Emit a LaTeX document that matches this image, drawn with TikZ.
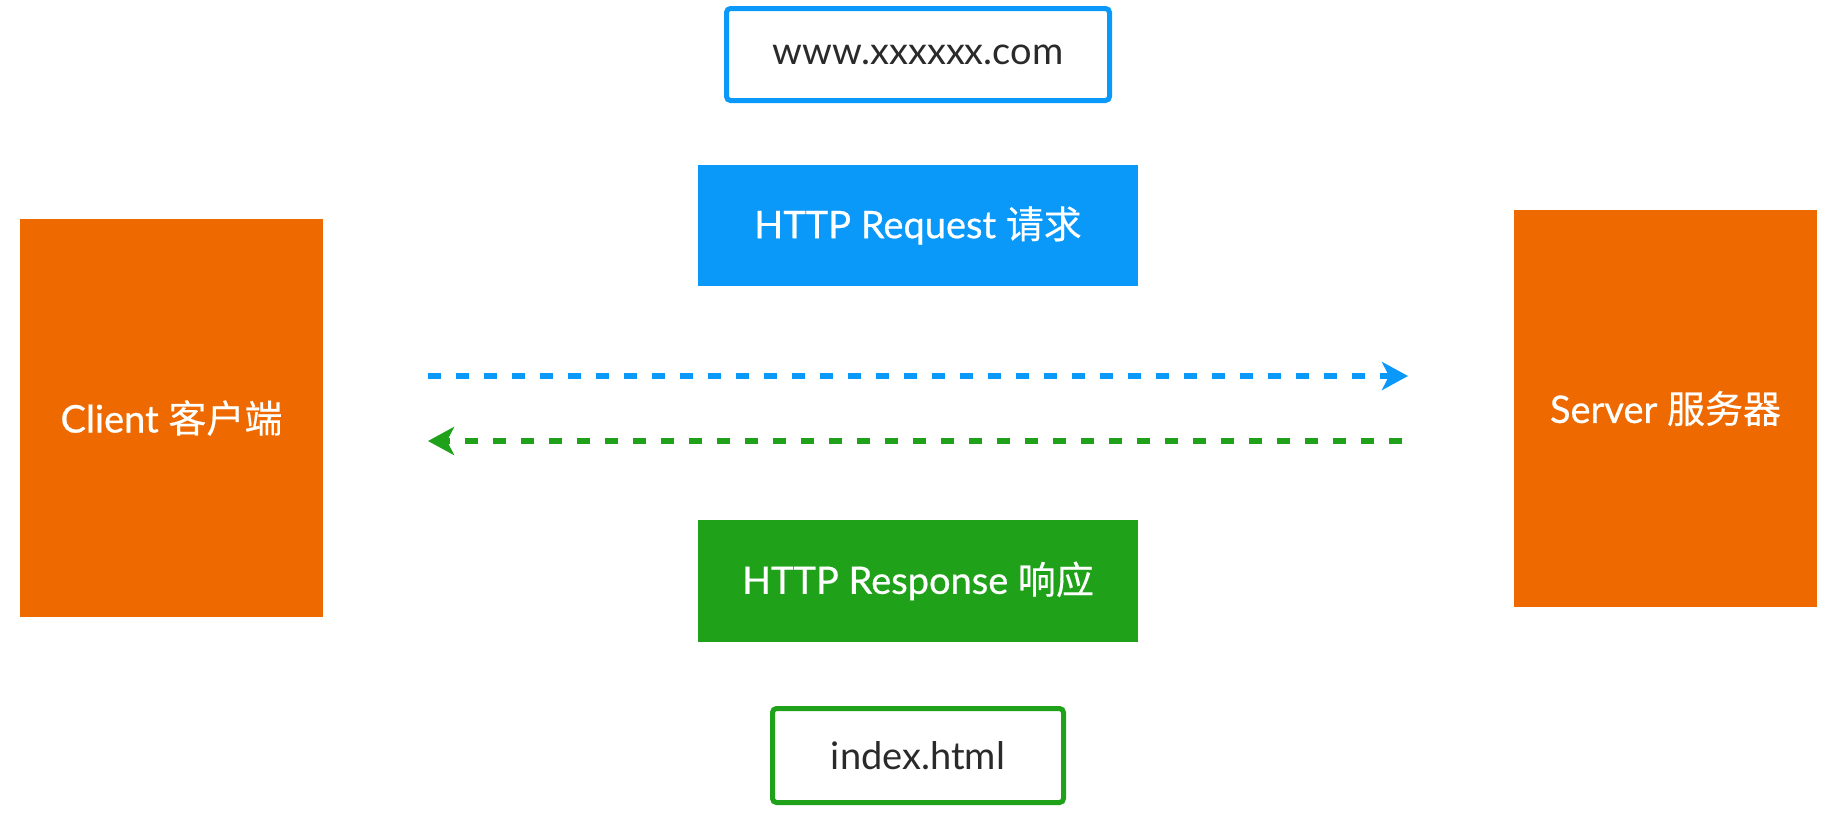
\documentclass[tikz,border=0pt]{standalone}
\usepackage{fontspec}
\setmainfont{Lato}
\newfontfamily\cjk{Noto Sans CJK SC}
\newfontfamily\boldlato[FakeBold=0.6]{Lato}
\newfontfamily\boldcjk[FakeBold=0.3]{Noto Sans CJK SC}
\usetikzlibrary{arrows.meta}
\definecolor{orangeC}{HTML}{EE6A00}
\definecolor{blueC}{HTML}{0A99F8}
\definecolor{greenC}{HTML}{1FA21A}
\definecolor{textC}{HTML}{2A2A2A}
\tikzset{
  x=1pt, y=-1pt,
  solidbox/.style={fill=#1, draw=none, text=white, inner sep=0pt, font=\boldlato\fontsize{38}{40}\selectfont},
  outlinebox/.style={draw=#1, line width=5pt, rounded corners=4pt, fill=white, text=textC, inner sep=0pt, font=\fontsize{38}{40}\selectfont},
  flow/.style={draw=#1, line width=6pt, dash pattern=on 13pt off 15pt, -{Stealth[length=26pt,width=28pt,inset=7pt]}},
}
\begin{document}
\begin{tikzpicture}
\useasboundingbox (0,0) rectangle (1830,828);
\fill[white] (0,0) rectangle (1830,828);
\node[outlinebox=blueC, minimum width=383pt, minimum height=92pt] (url) at (918,54.5) {www.xxxxxx.com};
\node[solidbox=blueC, minimum width=440pt, minimum height=121pt] (req) at (918,225.5) {HTTP Request {\boldcjk 请求}};
\node[solidbox=orangeC, minimum width=303pt, minimum height=398pt] (client) at (171.5,418) {Client {\boldcjk 客户端}};
\node[solidbox=orangeC, minimum width=303pt, minimum height=397pt] (server) at (1665.5,408.5) {Server {\boldcjk 服务器}};
\node[solidbox=greenC, minimum width=440pt, minimum height=122pt] (resp) at (918,581) {HTTP Response {\boldcjk 响应}};
\node[outlinebox=greenC, minimum width=291pt, minimum height=94pt] (index) at (918,755.5) {index.html};
\coordinate (reqA) at (428,376);
\coordinate (reqB) at (1408,376);
\coordinate (respA) at (1402,441);
\coordinate (respB) at (428,441);
\draw[flow=blueC] (reqA) -- (reqB);
\draw[flow=greenC] (respA) -- (respB);
\end{tikzpicture}
\end{document}
